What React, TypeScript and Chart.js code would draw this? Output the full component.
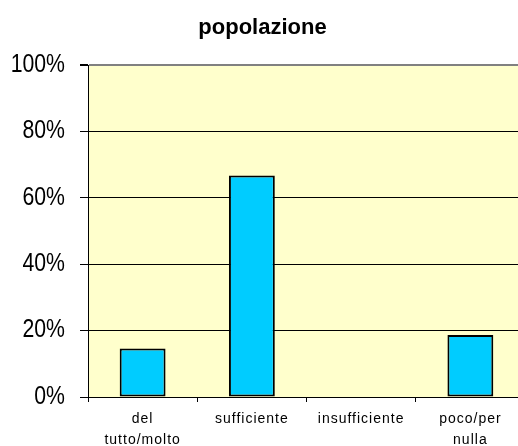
import React, { useEffect, useRef } from "react";
import { Chart, registerables } from "chart.js";

Chart.register(...registerables);

const title = "popolazione";
const categories: (string | string[])[] = [
  ["del", "tutto/molto"],
  "sufficiente",
  "insufficiente",
  ["poco/per", "nulla"],
];
const values = [14.6, 66.7, 0, 18.7];
const yTicks = [0, 20, 40, 60, 80, 100];

const SANS = "'Liberation Sans', Arial, sans-serif";

const plotBg = {
  id: "plotBg",
  beforeDraw(chart: any) {
    const { ctx, chartArea } = chart;
    ctx.save();
    ctx.fillStyle = "#FFFFCC";
    ctx.fillRect(chartArea.left, chartArea.top, chartArea.right - chartArea.left, chartArea.bottom - chartArea.top);
    ctx.restore();
  },
};

export default function App() {
  const ref = useRef<HTMLCanvasElement>(null);
  useEffect(() => {
    if (!ref.current) return;
    const chart: any = new Chart(ref.current, {
      type: "bar",
      data: {
        labels: categories,
        datasets: [
          {
            data: values,
            backgroundColor: "#00CCFF",
            borderColor: "#000000",
            borderWidth: 2,
            borderSkipped: false,
            categoryPercentage: 1,
            barPercentage: 0.42,
          },
        ],
      },
      options: {
        responsive: false,
        animation: false,
        layout: { padding: 0 },
        plugins: {
          legend: { display: false },
          tooltip: { enabled: false },
          title: {
            display: true,
            text: title,
            color: "#000",
            font: { family: SANS, size: 22, weight: "bold", lineHeight: 1.2 },
            padding: { top: 15, bottom: 23.6 },
          },
        },
        scales: {
          x: {
            grid: {
              display: true,
              drawOnChartArea: false,
              drawTicks: true,
              tickLength: 5,
              tickColor: "#000",
              offset: true,
            },
            border: { display: true, color: "#000", width: 1 },
            ticks: {
              color: "#000",
              font: { family: SANS, size: 14, lineHeight: 1.5 },
              padding: 7,
              maxRotation: 0,
              autoSkip: false,
            },
            afterFit(scale: any) {
              scale.height = 49;
            },
          },
          y: {
            min: 0,
            max: 100,
            afterBuildTicks(scale: any) {
              scale.ticks = yTicks.map((v) => ({ value: v }));
            },
            grid: {
              color: (ctx: any) => (ctx.tick && ctx.tick.value === 100 ? "#808080" : "#000"),
              lineWidth: (ctx: any) => (ctx.tick && ctx.tick.value === 100 ? 2 : 1),
              tickColor: "#000",
              tickLength: 8,
              drawTicks: true,
            },
            border: { display: true, color: "#000", width: 1 },
            ticks: {
              color: "#000",
              font: { family: SANS, size: 25 },
              padding: 15,
              callback: (v: any) => v + "%",
            },
            afterFit(scale: any) {
              scale.width = 88;
            },
          },
        },
      },
      plugins: [plotBg],
    });

    // condensed y labels (scaled horizontally around their right edge)
    const ys = chart.scales.y;
    const yOrig = ys.drawLabels.bind(ys);
    ys.drawLabels = (area: any) => {
      const c = chart.ctx;
      const rx = ys.right - 8 - 15;
      c.save();
      c.translate(rx, 0);
      c.scale(0.85, 1);
      c.translate(-rx, 0);
      yOrig(area);
      c.restore();
    };
    // letter-spaced x labels
    const xs = chart.scales.x;
    const xOrig = xs.drawLabels.bind(xs);
    xs.drawLabels = (area: any) => {
      const c = chart.ctx as any;
      c.save();
      c.letterSpacing = "1px";
      xOrig(area);
      c.letterSpacing = "0px";
      c.restore();
    };
    chart.draw();
    return () => chart.destroy();
  }, []);
  return (
    <div style={{ position: "fixed", left: 0, top: 0, width: 518, height: 446, overflow: "hidden", background: "#fff" }}>
      <canvas ref={ref} width={525} height={446} style={{ display: "block", width: 525, height: 446 }} />
    </div>
  );
}
